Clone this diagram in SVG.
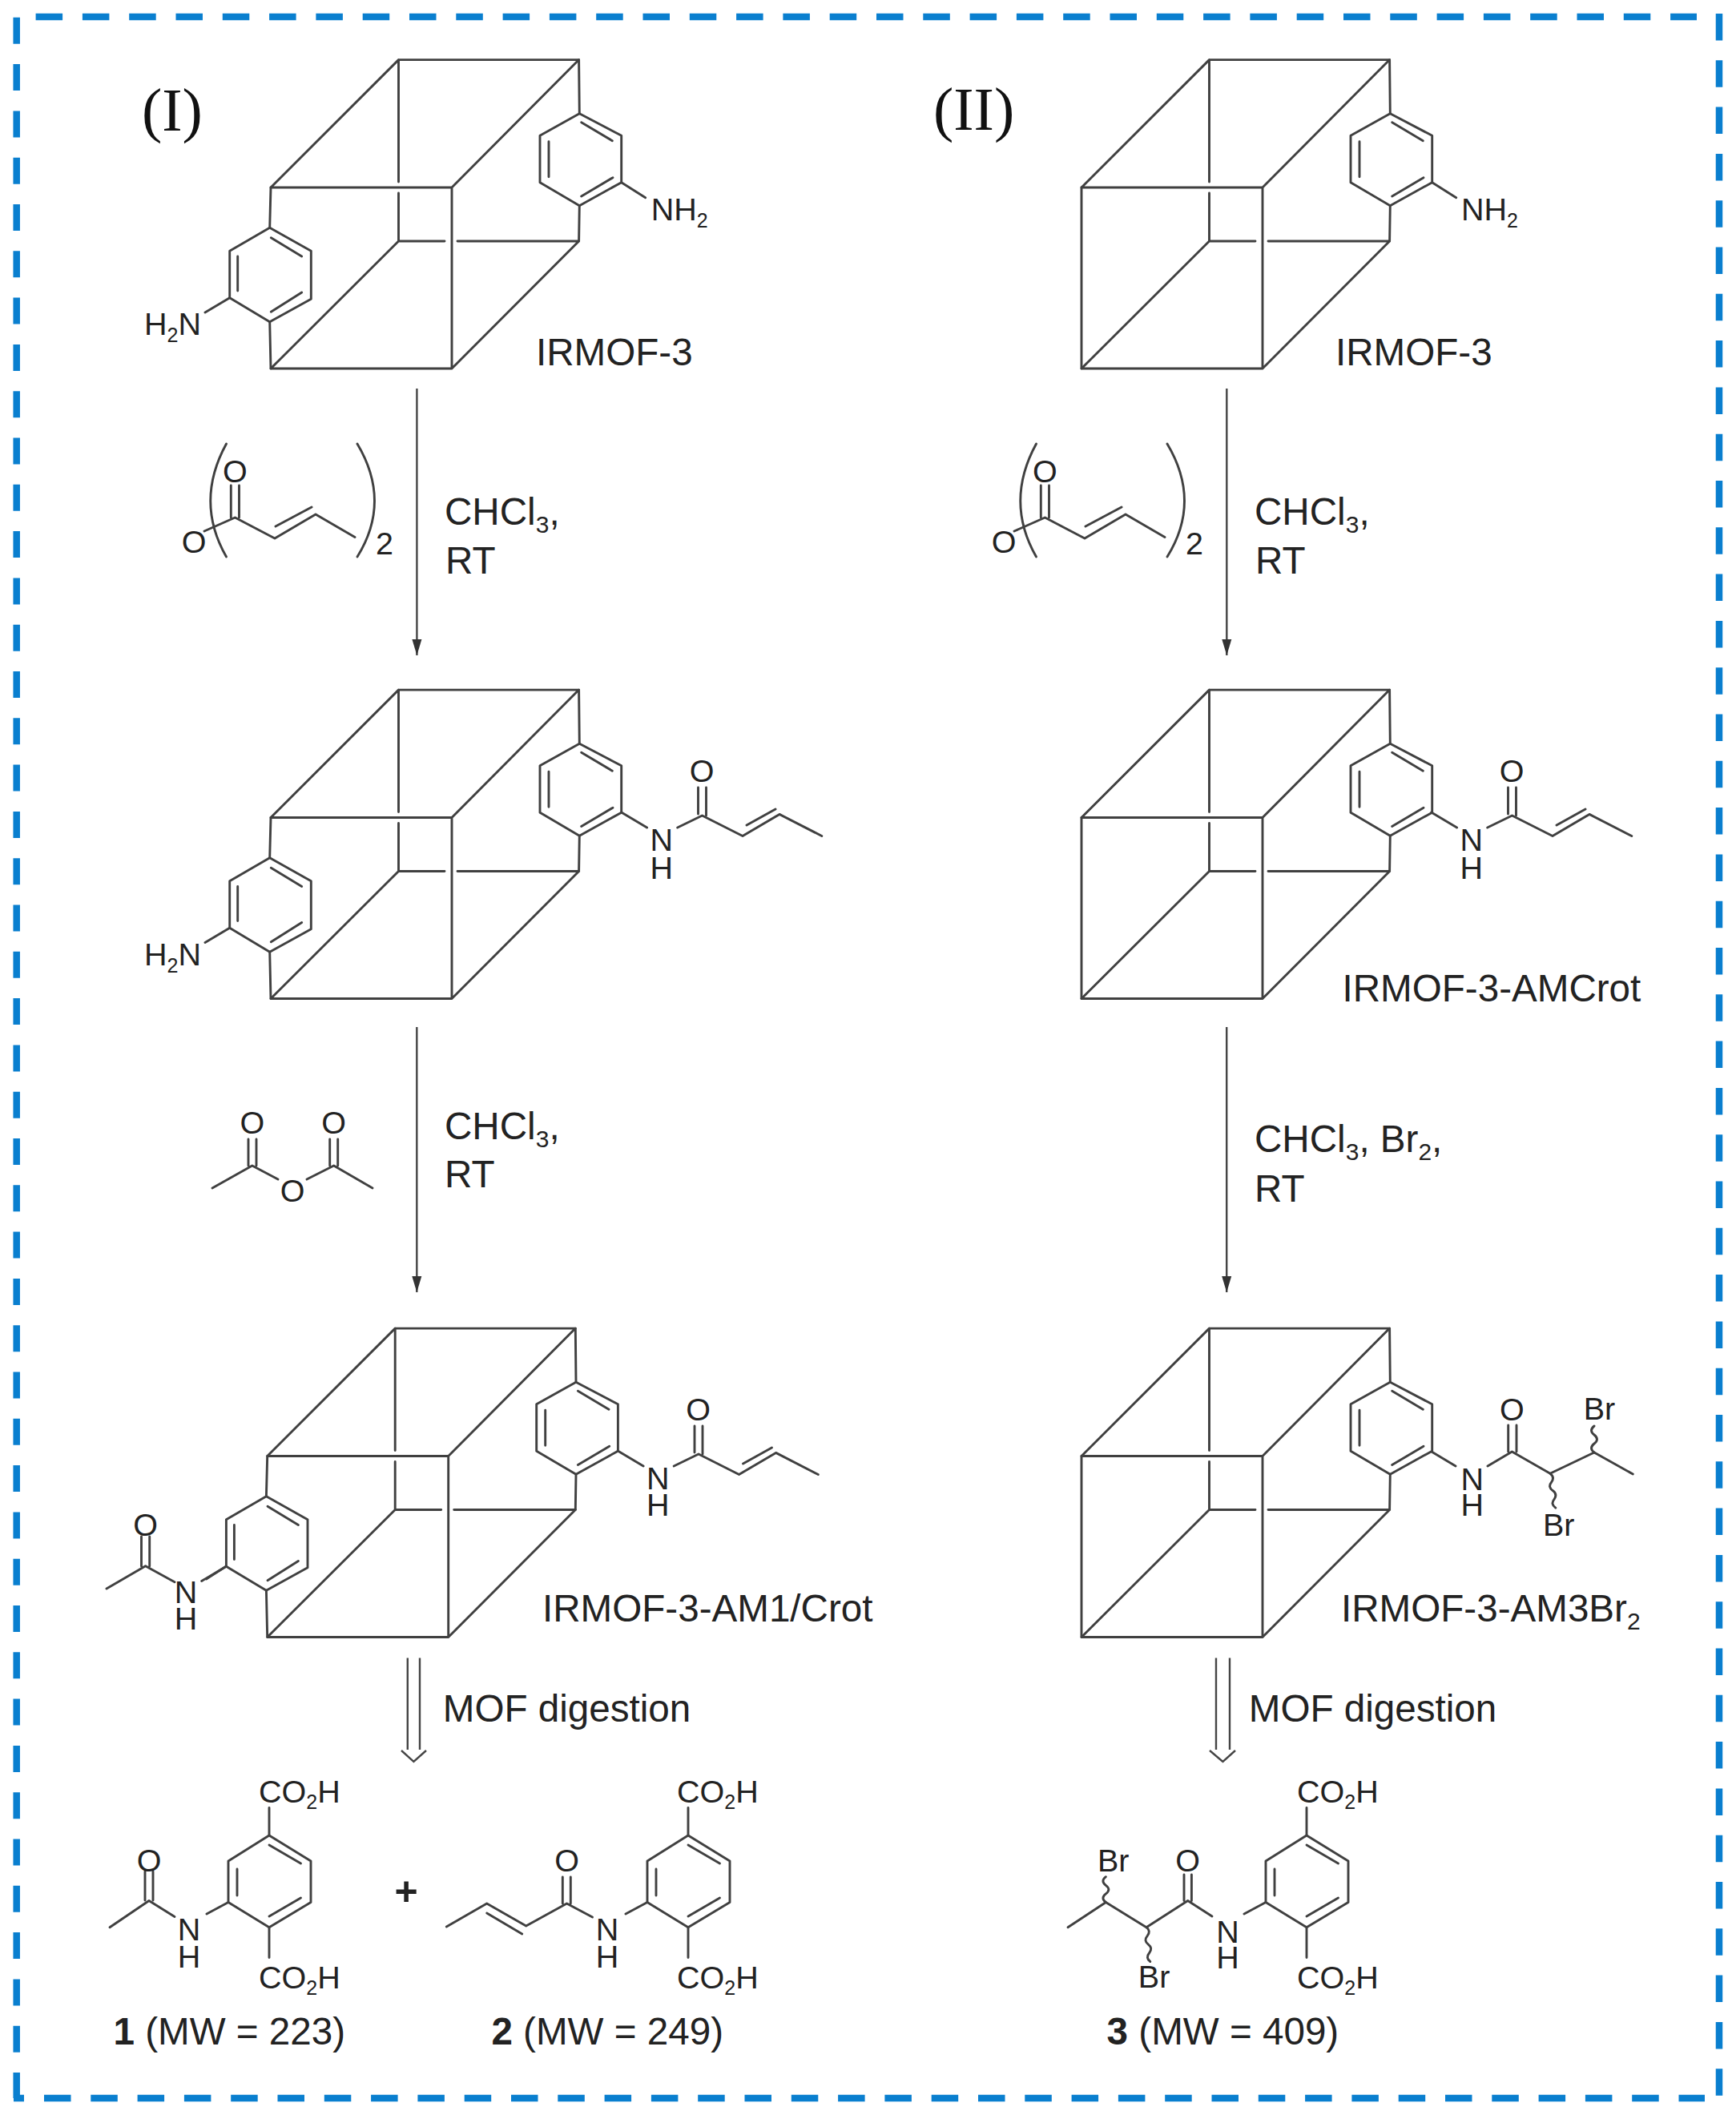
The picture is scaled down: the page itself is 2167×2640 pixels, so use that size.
<svg xmlns="http://www.w3.org/2000/svg" xmlns:xlink="http://www.w3.org/1999/xlink" width="2167" height="2640" viewBox="0 0 2167 2640">
<style>
.b{fill:none;stroke:#404040;stroke-width:2.9;stroke-linecap:round;stroke-linejoin:round}
.c{fill:none;stroke:#454545;stroke-width:2.4}
.f{fill:none;stroke:#0a7fcf;stroke-width:8.5}
text{font-family:"Liberation Sans",Arial,sans-serif;fill:#222}
.a{font-size:39.5px}
.m{font-size:47.6px}
.r{font-family:"Liberation Serif","Times New Roman",serif;font-size:76px;fill:#111}
.mid{text-anchor:middle}
</style>
<defs>
<marker id="ah" markerUnits="userSpaceOnUse" markerWidth="22" markerHeight="14" refX="20" refY="6.5" orient="auto"><path d="M0,0.5 L20,6.5 L0,12.5 Z" fill="#333"/></marker>
<g id="cube" class="b">
<path d="M497.5,74.6H722.6L564,234H338L497.5,74.6M564,234V460H338L497.5,301M564,460L722.6,301M497.5,74.6V227M497.5,241V301H555M571,301H722.6"/>
<path d="M722.6,74.6L723.3,141.7M723.3,256.7L722.6,301"/>
<path d="M723.3,141.7L775.7,169.3V227.7L723.3,256.7L674,227.7V169.3Z"/>
<path d="M725.7,152.7L764.3,175.7M685,176.7V220.7M725.7,245L765,221.7"/>
</g>
<g id="leftring" class="b">
<path d="M338,234L336.7,284.3M336.7,401.7L338,460"/>
<path d="M336.7,284.3L388.3,313.3V373.3L336.7,401.7L286.7,371.7V313.3Z"/>
<path d="M338.3,296.7L376.7,320M296.7,320V363M338.3,389.3L376.7,365"/>
<path d="M286.7,371.7L256,390"/>
</g>
<g id="amide" class="b">
<path d="M775.7,1014L807.6,1033M845.7,1033L876.5,1018L927,1043.5L973,1016.4L1025.8,1043.5"/>
<path d="M871.5,983V1016M881.5,983V1018M932,1030L968,1010"/>
</g>
<g id="crot" class="b">
<path d="M255,663L293.4,646L343,672L394,642L443,670.5M288.3,606V646M298.5,606V646M344,657L389,633"/>
<path d="M282.5,554Q243,626 282.5,695M446,554Q489,626 446,695"/>
</g>
<g id="ring-p" class="b">
<path d="M336,2291L388,2323V2374.5L336,2405.7L285,2374.5V2323Z"/>
<path d="M336,2303L375.5,2326M296,2333V2366M336,2392L375.5,2369"/>
<path d="M336,2291V2256.5M336,2405.7V2443.5M285,2374.5L258,2389"/>
</g>
</defs>
<rect width="2167" height="2640" fill="#fff"/>
<g id="frame">
<path class="f" d="M44.6,21H2118" stroke-dasharray="33.5 24.8"/>
<path class="f" d="M2146,17V2618" stroke-dasharray="33.5 24.8"/>
<path class="f" d="M20.7,21.8V2619" stroke-dasharray="33 25.3"/>
<path class="f" d="M55,2619H2128" stroke-dasharray="33.5 24.8"/>
<path class="f" d="M17,2619H30"/>
</g>
<g id="connectors">
<path class="c" marker-end="url(#ah)" d="M520.4,485V818"/>
<path class="c" marker-end="url(#ah)" d="M520.3,1282V1613"/>
<path class="c" marker-end="url(#ah)" d="M1531.3,485V818"/>
<path class="c" marker-end="url(#ah)" d="M1531.2,1282V1613"/>
<path class="c" d="M508.8,2069.5V2184M524,2069.5V2184M501,2185L516.4,2199L532,2185"/>
<path class="c" d="M1518,2069.5V2184M1535,2069.5V2184M1510,2185L1526.5,2199L1542,2185"/>
</g>
<text id="label-I" class="r" x="177" y="163">(I)</text>
<text id="label-II" class="r" x="1165" y="162">(II)</text>

<g id="irmof3-1">
<use xlink:href="#cube" href="#cube"/><use xlink:href="#leftring" href="#leftring"/>
<path class="b" d="M775.7,227.7L805.7,246.7"/>
<text class="a" x="812.7" y="275">NH<tspan font-size="25" dy="9">2</tspan></text>
<text class="a" x="180" y="418.3">H<tspan font-size="25" dy="9">2</tspan><tspan dy="-9">N</tspan></text>
<text class="m" x="669" y="456">IRMOF-3</text>
</g>
<g id="reagent-1">
<use xlink:href="#crot" href="#crot"/>
<text class="a mid" x="242" y="690">O</text><text class="a mid" x="293.4" y="602">O</text>
<text class="a" x="469" y="692">2</text>
<text class="m" x="555" y="654.5">CHCl<tspan font-size="30" dy="10">3</tspan><tspan dy="-10">,</tspan></text>
<text class="m" x="556" y="716">RT</text>
</g>
<g id="irmof3-2">
<g transform="translate(0,786.5)"><use xlink:href="#cube" href="#cube"/><use xlink:href="#leftring" href="#leftring"/></g>
<use xlink:href="#amide" href="#amide"/>
<text class="a" x="180" y="1205">H<tspan font-size="25" dy="9">2</tspan><tspan dy="-9">N</tspan></text>
<text class="a mid" x="825.8" y="1062">N</text><text class="a mid" x="825.8" y="1097">H</text>
<text class="a mid" x="876" y="976">O</text>
</g>
<g id="reagent-2">
<path class="b" d="M265,1483L314.8,1455L347,1472M383,1472L416.7,1455L465,1483M310,1422V1455M320,1422V1455M411.7,1422V1455M421.7,1422V1455"/>
<text class="a mid" x="314.8" y="1415">O</text><text class="a mid" x="416.7" y="1415">O</text><text class="a mid" x="365" y="1500">O</text>
<text class="m" x="555" y="1422">CHCl<tspan font-size="30" dy="10">3</tspan><tspan dy="-10">,</tspan></text>
<text class="m" x="555" y="1482">RT</text>
</g>
<g id="irmof3-3">
<g transform="translate(-4.3,1583.5)"><use xlink:href="#cube" href="#cube"/><use xlink:href="#leftring" href="#leftring"/></g>
<g transform="translate(-4.5,797)"><use xlink:href="#amide" href="#amide"/></g>
<path class="b" d="M257.5,1971L282.4,1955M218,1974.7L181.6,1954.8L133,1983M176.5,1918V1955M186.7,1918V1955"/>
<text class="a mid" x="232" y="2001">N</text><text class="a mid" x="232" y="2034">H</text><text class="a mid" x="181.6" y="1917">O</text>
<text class="a mid" x="821.3" y="1859">N</text><text class="a mid" x="821.3" y="1892">H</text><text class="a mid" x="871.5" y="1773">O</text>
<text class="m" x="677" y="2024.4">IRMOF-3-AM1/Crot</text>
<text class="m" x="552.8" y="2149">MOF digestion</text>
</g>
<g id="product-1">
<use xlink:href="#ring-p" href="#ring-p"/>
<path class="b" d="M218,2392.4L186,2372.5L137,2405.7M181,2336V2372M191,2336V2372"/>
<text class="a" x="323" y="2250">CO<tspan font-size="25" dy="8">2</tspan><tspan dy="-8">H</tspan></text>
<text class="a" x="323" y="2482">CO<tspan font-size="25" dy="8">2</tspan><tspan dy="-8">H</tspan></text>
<text class="a mid" x="236" y="2422">N</text><text class="a mid" x="236" y="2456">H</text><text class="a mid" x="186" y="2336">O</text>
<text class="m" x="141.5" y="2551.6"><tspan font-weight="bold">1</tspan> (MW = 223)</text>
</g>
<text id="plus" class="mid" font-size="50" font-weight="bold" x="507" y="2378">+</text>
<g id="product-2">
<g transform="translate(523,0)"><use xlink:href="#ring-p" href="#ring-p"/></g>
<path class="b" d="M739.5,2393L707.5,2376L656.7,2404L607.7,2376L557.3,2405M702.3,2343V2376M712.3,2343V2376M607.7,2388L651.7,2414"/>
<text class="a" x="845" y="2250">CO<tspan font-size="25" dy="8">2</tspan><tspan dy="-8">H</tspan></text>
<text class="a" x="845" y="2482">CO<tspan font-size="25" dy="8">2</tspan><tspan dy="-8">H</tspan></text>
<text class="a mid" x="758" y="2422">N</text><text class="a mid" x="758" y="2456">H</text><text class="a mid" x="707.7" y="2336">O</text>
<text class="m" x="613.4" y="2551.6"><tspan font-weight="bold">2</tspan> (MW = 249)</text>
</g>

<g id="irmof3-4">
<g transform="translate(1012,0)"><use xlink:href="#cube" href="#cube"/></g>
<path class="b" d="M1350,234V460M1787.7,227.7L1817.7,246.7"/>
<text class="a" x="1824" y="275">NH<tspan font-size="25" dy="9">2</tspan></text>
<text class="m" x="1667" y="456">IRMOF-3</text>
</g>
<g id="reagent-3">
<g transform="translate(1011,0)"><use xlink:href="#crot" href="#crot"/></g>
<text class="a mid" x="1253" y="690">O</text><text class="a mid" x="1304.4" y="602">O</text>
<text class="a" x="1480" y="692">2</text>
<text class="m" x="1566" y="654.5">CHCl<tspan font-size="30" dy="10">3</tspan><tspan dy="-10">,</tspan></text>
<text class="m" x="1567" y="716">RT</text>
</g>
<g id="irmof3-5">
<g transform="translate(1012,786.5)"><use xlink:href="#cube" href="#cube"/></g>
<path class="b" d="M1350,1020.5V1246.5"/>
<g transform="translate(1011,0)"><use xlink:href="#amide" href="#amide"/></g>
<text class="a mid" x="1836.8" y="1062">N</text><text class="a mid" x="1836.8" y="1097">H</text>
<text class="a mid" x="1887" y="976">O</text>
<text class="m" x="1675.5" y="1249.6">IRMOF-3-AMCrot</text>
<text class="m" x="1566" y="1438">CHCl<tspan font-size="30" dy="10">3</tspan><tspan dy="-10">, Br</tspan><tspan font-size="30" dy="10">2</tspan><tspan dy="-10">,</tspan></text>
<text class="m" x="1566" y="1499.6">RT</text>
</g>
<g id="irmof3-6">
<g transform="translate(1012,1583.5)"><use xlink:href="#cube" href="#cube"/></g>
<path class="b" d="M1350,1817.5V2043.5"/>
<path class="b" d="M1787,1812L1817,1830M1857,1830L1887.4,1812L1935,1839.3L1990,1813L2038.3,1840M1882.7,1779V1812M1893,1779V1812"/>
<path class="b" d="M1990,1813q-7,-5.5 0,-11q7,-5.5 0,-11q-7,-5.5 0,-11M1935,1839.3q6,4.5 1.7,10.7q-5,6 1.7,10.7q6,4.5 1.7,10.7q-5,6 1.7,10.7"/>
<text class="a mid" x="1837.7" y="1860">N</text><text class="a mid" x="1837.7" y="1892">H</text><text class="a mid" x="1887.4" y="1773">O</text>
<text class="a" x="1976.7" y="1771.7">Br</text><text class="a" x="1926" y="1916.7">Br</text>
<text class="m" x="1674" y="2024.4">IRMOF-3-AM3Br<tspan font-size="30" dy="10">2</tspan></text>
<text class="m" x="1558.8" y="2149">MOF digestion</text>
</g>
<g id="product-3">
<g transform="translate(1295,0)"><use xlink:href="#ring-p" href="#ring-p"/></g>
<path class="b" d="M1513,2392L1482.7,2372.5L1431,2405.7L1380.4,2374.5L1333,2405.7M1478,2340V2372.5M1487.4,2340V2372.5"/>
<path class="b" d="M1380.4,2374.5q-7,-5.3 0,-10.6q7,-5.3 0,-10.6q-7,-5.3 0,-10.6M1431,2405.7q6,4.5 1.2,10.7q-5,6 1.2,10.7q6,4.5 1.2,10.7q-5,6 1.2,10.7"/>
<text class="a" x="1619" y="2250">CO<tspan font-size="25" dy="8">2</tspan><tspan dy="-8">H</tspan></text>
<text class="a" x="1619" y="2482">CO<tspan font-size="25" dy="8">2</tspan><tspan dy="-8">H</tspan></text>
<text class="a mid" x="1532.5" y="2425">N</text><text class="a mid" x="1532.5" y="2457">H</text><text class="a mid" x="1482.7" y="2336">O</text>
<text class="a" x="1370" y="2336">Br</text><text class="a" x="1420.8" y="2480.6">Br</text>
<text class="m" x="1381.6" y="2551.6"><tspan font-weight="bold">3</tspan> (MW = 409)</text>
</g>
</svg>
